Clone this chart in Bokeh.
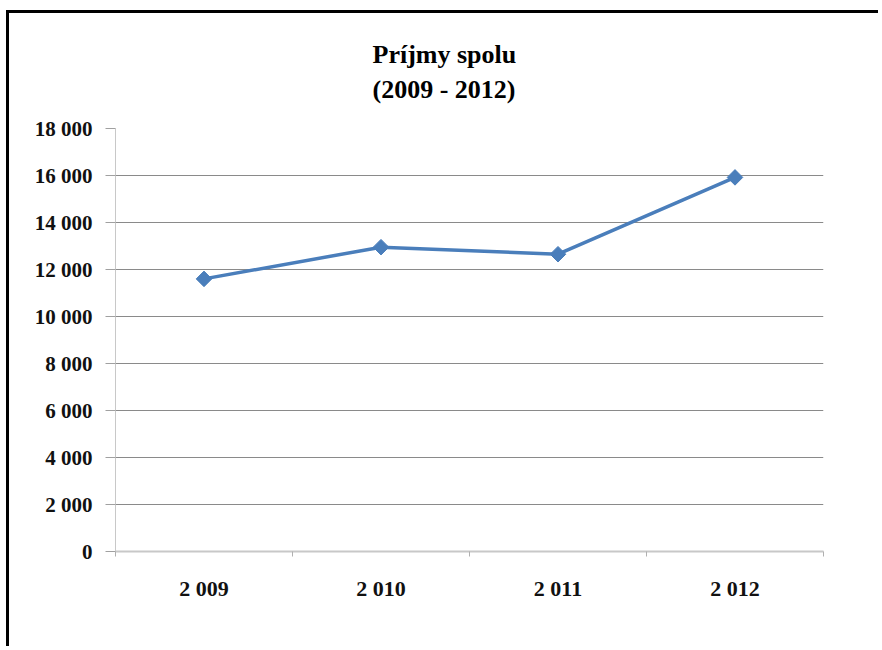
import math
from bokeh.plotting import figure
from bokeh.models import Range1d, FixedTicker, CustomJSTickFormatter, ColumnDataSource
from bokeh.embed import file_html
from bokeh.resources import INLINE

categories = ["2 009", "2 010", "2 011", "2 012"]
values = [11600, 12950, 12650, 15920]
y_ticks = [0, 2000, 4000, 6000, 8000, 10000, 12000, 14000, 16000, 18000]
title_text = "Príjmy spolu\n(2009 - 2012)"

W, H = 872, 636
FONT = "Liberation Serif"
LINE_BLUE = "#4a7ebb"

xs = [i + 0.5 for i in range(len(categories))]
src = ColumnDataSource(dict(x=xs, y=values, cat=categories))

p = figure(width=W, height=H, output_backend="svg", toolbar_location=None,
           x_range=Range1d(0, len(categories)), y_range=Range1d(0, 18000),
           min_border_left=106, min_border_right=58, min_border_top=114,
           min_border_bottom=98, title=title_text)
p.styles = {"border-left": "3px solid #000000", "border-top": "3px solid #000000",
            "margin-left": "6px", "margin-top": "10px"}
p.outline_line_color = None
p.background_fill_color = "white"
p.border_fill_color = "white"

p.title.align = "left"
p.title.offset = 257
p.title.text_font = FONT
p.title.text_font_style = "bold"
p.title.text_font_size = "26px"
p.title.text_line_height = 1.2
p.title.text_color = "#000000"
p.title.standoff = 49

# grid
p.xgrid.grid_line_color = None
p.ygrid.grid_line_color = "#8a8a8a"
p.ygrid.grid_line_width = 1

# y axis
p.yaxis.ticker = FixedTicker(ticks=y_ticks)
p.yaxis.formatter = CustomJSTickFormatter(code="""
    const s = Math.round(tick).toString();
    return s.replace(/\\B(?=(\\d{3})+(?!\\d))/g, ' ');
""")
p.yaxis.axis_line_color = "#c8c8c8"
p.yaxis.major_tick_line_color = "#a0a0a0"
p.yaxis.major_tick_out = 10
p.yaxis.major_tick_in = 0
p.yaxis.minor_tick_line_color = None
p.yaxis.major_label_text_font = FONT
p.yaxis.major_label_text_font_style = "bold"
p.yaxis.major_label_text_font_size = "21px"
p.yaxis.major_label_text_color = "#111111"
p.yaxis.major_label_standoff = 13

# x axis
p.xaxis.ticker = FixedTicker(ticks=xs, minor_ticks=list(range(len(categories) + 1)))
p.xaxis.major_label_overrides = {x: c for x, c in zip(xs, categories)}
p.xaxis.axis_line_color = "#c8c8c8"
p.xaxis.axis_line_width = 2
p.xaxis.major_tick_line_color = None
p.xaxis.major_tick_out = 0
p.xaxis.minor_tick_line_color = "#b0b0b0"
p.xaxis.minor_tick_out = 5
p.xaxis.minor_tick_in = 0
p.xaxis.major_label_text_font = FONT
p.xaxis.major_label_text_font_style = "bold"
p.xaxis.major_label_text_font_size = "22px"
p.xaxis.major_label_text_color = "#111111"
p.xaxis.major_label_standoff = 19

# series
p.line("x", "y", source=src, line_color=LINE_BLUE, line_width=3.5)
p.scatter("x", "y", source=src, marker="square", size=11, angle=math.pi / 4,
          fill_color=LINE_BLUE, line_color=LINE_BLUE)

open("out.html", "w").write(file_html(p, INLINE))
